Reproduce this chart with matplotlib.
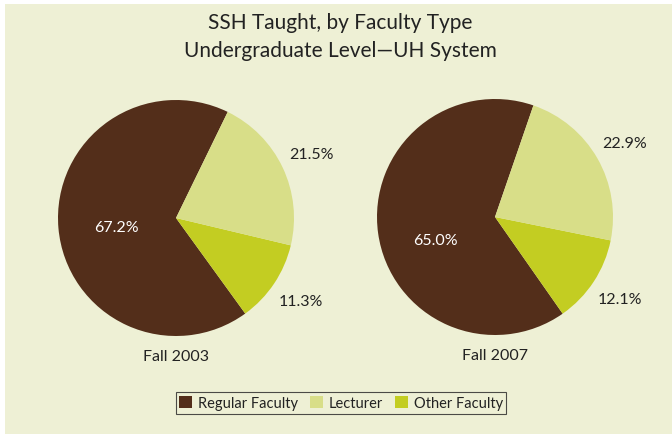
import numpy as np
import matplotlib
matplotlib.use("Agg")
import matplotlib.pyplot as plt
from matplotlib.patches import Rectangle, Patch

categories = ["Regular Faculty", "Other Faculty", "Lecturer"]
legend_order = ["Regular Faculty", "Lecturer", "Other Faculty"]
fall2003 = [67.2, 11.3, 21.5]
fall2007 = [65.0, 12.1, 22.9]
pie_titles = ["Fall 2003", "Fall 2007"]
colors = {"Regular Faculty": "#532e1a", "Lecturer": "#d8de88", "Other Faculty": "#c3cd22"}
bg = "#eef0d5"

plt.rcParams['font.family'] = ['Lato', 'DejaVu Sans']

W, H = 672, 435
fig = plt.figure(figsize=(W / 100, H / 100), dpi=100, facecolor="white")
fig.patches.append(Rectangle((5 / W, 0), 1 - 5 / W, 1 - 5 / H, transform=fig.transFigure,
                             facecolor=bg, edgecolor="none", zorder=-10))

fig.text(340 / W, 1 - 23 / H, "SSH Taught, by Faculty Type", ha="center", va="center",
         fontsize=15, color="#222222")
fig.text(340 / W, 1 - 51 / H, "Undergraduate Level\u2014UH System", ha="center", va="center",
         fontsize=15, color="#222222")

R = 118
specs = [(176, 219, 64, fall2003, -0.03), (495, 218, 71, fall2007, -0.12)]
for (cx, cy, start, vals, inner_dy), ttl in zip(specs, pie_titles):
    ax = fig.add_axes([(cx - R) / W, (H - cy - R) / H, 2 * R / W, 2 * R / H])
    wedges, _ = ax.pie(vals, colors=[colors[c] for c in categories], startangle=start,
                       counterclock=True, radius=1,
                       wedgeprops=dict(linewidth=0, edgecolor="none"))
    for w, v, c in zip(wedges, vals, categories):
        mid = np.deg2rad((w.theta1 + w.theta2) / 2)
        if c == "Regular Faculty":
            d, col, dy = 0.51, "white", inner_dy
        else:
            d, col, dy = 1.27, "#222222", 0
        ax.text(d * np.cos(mid), d * np.sin(mid) + dy, f"{v:.1f}%", ha="center", va="center",
                fontsize=11.5, color=col)
    ax.text(0, -1.17, ttl, ha="center", va="center", fontsize=11.5, color="#222222")
    ax.set_xlim(-1, 1)
    ax.set_ylim(-1, 1)
    ax.set_aspect("equal")
    ax.axis("off")

handles = [Patch(facecolor=colors[c], edgecolor="none") for c in legend_order]
leg = fig.legend(handles, legend_order, loc="center", bbox_to_anchor=(341 / W, 1 - 404 / H),
                 ncol=3, frameon=True, fancybox=False, fontsize=10.5,
                 handlelength=0.9, handleheight=0.9, handletextpad=0.4, columnspacing=0.8,
                 borderpad=0.25, borderaxespad=0)
leg.get_frame().set_edgecolor("#222222")
leg.get_frame().set_linewidth(0.8)
leg.get_frame().set_facecolor(bg)
for t in leg.get_texts():
    t.set_color("#222222")

fig.savefig("out.png", dpi=100, facecolor="white")
